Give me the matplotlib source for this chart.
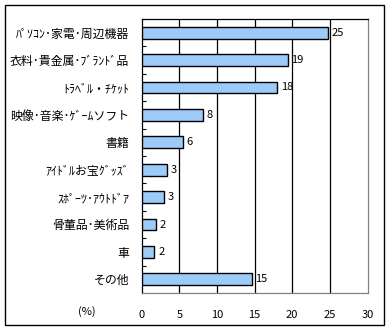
import matplotlib
matplotlib.use("Agg")
import matplotlib.pyplot as plt
from matplotlib.patches import Rectangle
import numpy as np

plt.rcParams['font.family'] = ['Noto Sans CJK JP', 'DejaVu Sans']

categories = ["ﾊﾟｿｺﾝ･家電･周辺機器", "衣料･貴金属･ﾌﾞﾗﾝﾄﾞ品", "ﾄﾗﾍﾞﾙ・ﾁｹｯﾄ",
              "映像･音楽･ｹﾞｰﾑソフト", "書籍", "ｱｲﾄﾞﾙお宝ｸﾞｯｽﾞ", "ｽﾎﾟｰﾂ･ｱｳﾄﾄﾞｱ",
              "骨董品･美術品", "車", "その他"]
values = [24.7, 19.4, 18.0, 8.1, 5.5, 3.4, 3.0, 1.9, 1.7, 14.6]
value_labels = ["25", "19", "18", "8", "6", "3", "3", "2", "2", "15"]
xticks = [0, 5, 10, 15, 20, 25, 30]

W, H = 390, 330
fig = plt.figure(figsize=(W/100, H/100), dpi=100)
fig.patches.append(Rectangle((4.5/W, 1-324.5/H), 379/W, 320/H, transform=fig.transFigure,
                             fill=False, edgecolor='black', linewidth=1.0))

ax = fig.add_axes([141.7/W, 1-293/H, 225.8/W, 274/H])
y = np.arange(len(categories))
ax.barh(y, values, height=0.43, color='#9DCBF7', edgecolor='black', linewidth=1.0, zorder=3)
for yi, v, lab in zip(y, values, value_labels):
    ax.text(v + 0.5, yi, lab, va='center', ha='left', fontsize=8, zorder=4)

ax.set_xlim(0, 30)
ax.set_ylim(len(categories) - 0.5, -0.5)
ax.set_xticks(xticks)
ax.set_xticklabels([str(t) for t in xticks], fontsize=8)
ax.tick_params(axis='x', length=0, pad=12)
ax.set_yticks(y)
ax.set_yticklabels(categories, fontsize=8.6)
ax.tick_params(axis='y', which='major', length=0, pad=9)
ax.set_yticks(np.arange(0.5, len(categories) - 0.5, 1), minor=True)
ax.tick_params(axis='y', which='minor', direction='in', length=3, width=0.8)
for xv in xticks[1:-1]:
    ax.axvline(xv, color='black', linewidth=0.9, zorder=1)
ax.spines['left'].set_color('black')
ax.spines['top'].set_color('black')
ax.spines['right'].set_color('#808080')
ax.spines['bottom'].set_color('#808080')
for s in ax.spines.values():
    s.set_linewidth(0.9)

fig.text(87/W, 1-312/H, "(%)", ha='center', va='center', fontsize=8)

fig.savefig("out.png", dpi=100)
